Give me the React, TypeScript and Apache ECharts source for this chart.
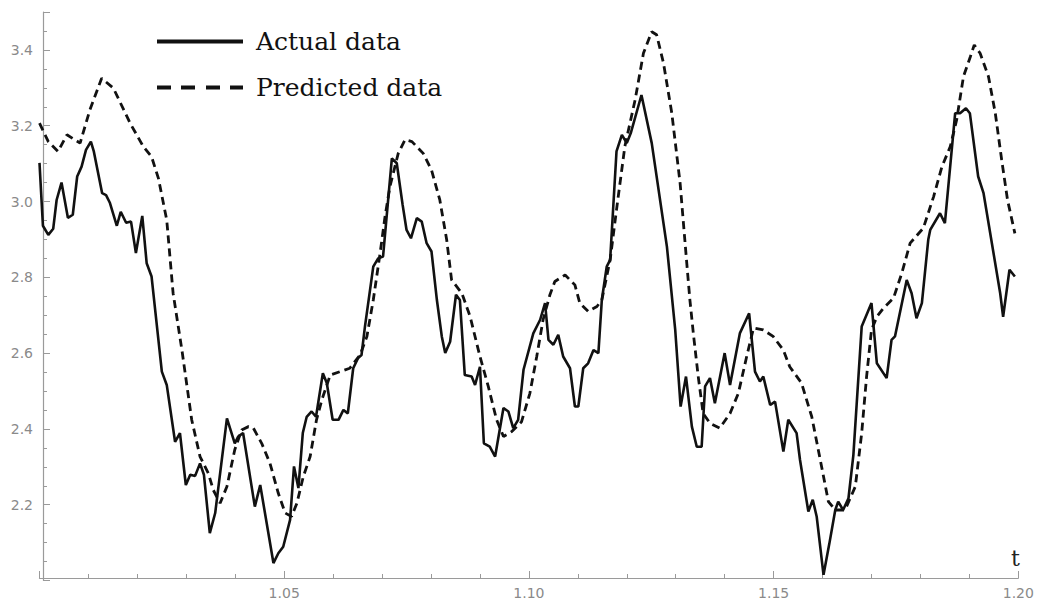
import React, { useEffect, useRef } from "react";
import * as echarts from "echarts";

// Actual data (t, value)
const actualT = [
  1.0, 1.0007, 1.0018, 1.0028, 1.0035, 1.0045, 1.0058, 1.0068, 1.0077, 1.0086,
  1.0095, 1.0105, 1.0111, 1.0128, 1.0136, 1.0144, 1.0158, 1.0166, 1.0177, 1.0187,
  1.0197, 1.021, 1.0219, 1.0229, 1.025, 1.026, 1.0277, 1.0287, 1.0299, 1.0308,
  1.0318, 1.0328, 1.0336, 1.0348, 1.0359, 1.0383, 1.0399, 1.0406, 1.0416, 1.044,
  1.0451, 1.0478, 1.0488, 1.0498, 1.0512, 1.052, 1.0529, 1.0538, 1.0546, 1.0556,
  1.0565, 1.0579, 1.0587, 1.0599, 1.0611, 1.0621, 1.063, 1.0641, 1.0651, 1.0658,
  1.0665, 1.0682, 1.0692, 1.0702, 1.072, 1.073, 1.0742, 1.075, 1.0759, 1.0771,
  1.0781, 1.0791, 1.0801, 1.0812, 1.0822, 1.0829, 1.0839, 1.0851, 1.0859, 1.0869,
  1.0883, 1.089, 1.09, 1.0908, 1.092, 1.0931, 1.0948, 1.0958, 1.0968, 1.0978,
  1.0989, 1.1009, 1.1023, 1.1033, 1.104, 1.105, 1.106, 1.107, 1.1084, 1.1094,
  1.1101, 1.1111, 1.1121, 1.1132, 1.1142, 1.1149, 1.1159, 1.1166, 1.1179, 1.119,
  1.12, 1.1208, 1.123, 1.1251, 1.1282, 1.1299, 1.131, 1.1321, 1.1333, 1.1343,
  1.1353, 1.136, 1.137, 1.138, 1.14, 1.1411, 1.1431, 1.145, 1.1462, 1.1472,
  1.1479, 1.1493, 1.1503, 1.152, 1.153, 1.1547, 1.1554, 1.1571, 1.158, 1.1588,
  1.1602, 1.1614, 1.1626, 1.1632, 1.1642, 1.1653, 1.1663, 1.168, 1.17, 1.1711,
  1.1731, 1.1741, 1.1748, 1.1772, 1.1782, 1.1792, 1.1803, 1.1816, 1.182, 1.184,
  1.185, 1.1871, 1.1881, 1.1893, 1.1901, 1.1918, 1.1929, 1.1963, 1.1969, 1.1982,
  1.1993,
];
const actualV = [
  3.102, 2.936, 2.912, 2.928, 3.004, 3.05, 2.957, 2.965, 3.066, 3.092,
  3.136, 3.158, 3.132, 3.022, 3.017, 2.996, 2.936, 2.973, 2.944, 2.947,
  2.864, 2.962, 2.837, 2.802, 2.551, 2.516, 2.366, 2.389, 2.252, 2.279,
  2.276, 2.309, 2.279, 2.125, 2.178, 2.428, 2.362, 2.38, 2.389, 2.195,
  2.252, 2.046, 2.072, 2.089, 2.16, 2.301, 2.244, 2.389, 2.432, 2.446,
  2.432, 2.547, 2.521, 2.424, 2.424, 2.45, 2.441, 2.56, 2.587, 2.595,
  2.67, 2.828, 2.85, 2.855, 3.114, 3.101, 2.991, 2.925, 2.903, 2.956,
  2.947, 2.89, 2.868, 2.74, 2.644, 2.6, 2.63, 2.754, 2.74, 2.542,
  2.538, 2.516, 2.564, 2.362, 2.353, 2.327, 2.455, 2.446, 2.402, 2.424,
  2.556, 2.652, 2.688, 2.732, 2.635, 2.622, 2.648, 2.591, 2.56, 2.459,
  2.459, 2.56, 2.573, 2.608, 2.6, 2.74, 2.828, 2.846, 3.132, 3.176,
  3.154, 3.18, 3.281, 3.154, 2.881, 2.661, 2.459, 2.538, 2.406, 2.353,
  2.353, 2.512, 2.534, 2.468, 2.6, 2.516, 2.652, 2.705, 2.551, 2.525,
  2.538, 2.463, 2.472, 2.34, 2.424, 2.389, 2.318, 2.182, 2.213, 2.169,
  2.015, 2.098, 2.186, 2.208, 2.186, 2.217, 2.331, 2.67, 2.732, 2.573,
  2.534, 2.635, 2.644, 2.793, 2.758, 2.692, 2.732, 2.899, 2.925, 2.969,
  2.943, 3.233, 3.233, 3.246, 3.233, 3.066, 3.022, 2.758, 2.696, 2.82,
  2.802,
];

// Predicted data (t, value)
const predictedT = [
  1.0, 1.0018, 1.0038, 1.0056, 1.0083, 1.0103, 1.0127, 1.0151, 1.0185, 1.0212,
  1.0229, 1.0243, 1.026, 1.0273, 1.0291, 1.0311, 1.0328, 1.0345, 1.0355, 1.0369,
  1.0383, 1.0399, 1.0413, 1.0427, 1.0437, 1.0454, 1.0471, 1.0488, 1.0502, 1.0515,
  1.0526, 1.0539, 1.0553, 1.0566, 1.0577, 1.0594, 1.0614, 1.0634, 1.0655, 1.0669,
  1.0682, 1.0696, 1.0706, 1.0716, 1.0733, 1.0747, 1.0761, 1.0784, 1.0801, 1.0818,
  1.0832, 1.0842, 1.0863, 1.088, 1.09, 1.0917, 1.0934, 1.0948, 1.0965, 1.0985,
  1.1002, 1.1016, 1.1029, 1.1043, 1.1053, 1.1074, 1.1094, 1.1104, 1.1121, 1.1139,
  1.1149, 1.1166, 1.1179, 1.1196, 1.1217, 1.1234, 1.1251, 1.1261, 1.1275, 1.1292,
  1.1309, 1.1322, 1.1329, 1.1336, 1.1346, 1.1356, 1.137, 1.139, 1.1411, 1.1428,
  1.1445, 1.1459, 1.1479, 1.1499, 1.152, 1.1533, 1.1557, 1.1578, 1.1598, 1.1612,
  1.1626, 1.1646, 1.1667, 1.168, 1.169, 1.17, 1.1711, 1.1724, 1.1745, 1.1762,
  1.1779, 1.1806, 1.1827, 1.1844, 1.1861, 1.1874, 1.1888, 1.1902, 1.191, 1.1922,
  1.1939, 1.1953, 1.1966, 1.1978, 1.1993,
];
const predictedV = [
  3.207, 3.158, 3.132, 3.176, 3.154, 3.242, 3.325, 3.299, 3.207, 3.145,
  3.118, 3.061, 2.951, 2.758, 2.608, 2.424, 2.327, 2.283, 2.239, 2.204,
  2.248, 2.345, 2.397, 2.406, 2.402, 2.362, 2.309, 2.23, 2.178, 2.169,
  2.204, 2.274, 2.327, 2.424, 2.477, 2.542, 2.551, 2.56, 2.595, 2.644,
  2.74, 2.864, 2.96, 3.039, 3.127, 3.163, 3.158, 3.127, 3.083, 3.004,
  2.899, 2.793, 2.758, 2.696, 2.591, 2.512, 2.424, 2.38, 2.393, 2.419,
  2.494, 2.591, 2.688, 2.754, 2.789, 2.806, 2.78, 2.732, 2.71, 2.723,
  2.74, 2.846, 2.978, 3.145, 3.268, 3.391, 3.448, 3.44, 3.365, 3.233,
  3.048, 2.846, 2.74, 2.652, 2.538, 2.441, 2.415, 2.402, 2.441, 2.494,
  2.591, 2.666, 2.661, 2.644, 2.608, 2.564, 2.521, 2.432, 2.301, 2.208,
  2.186, 2.186, 2.248, 2.389, 2.538, 2.661, 2.696, 2.718, 2.745, 2.811,
  2.89, 2.93, 3.013, 3.092, 3.145, 3.215, 3.33, 3.382, 3.413, 3.391,
  3.33, 3.233, 3.11, 3.004, 2.916,
];

const seriesNames = ["Actual data", "Predicted data"];
const xRange = [1.0, 1.2];
const yRange = [2.0, 3.5];
const axisColor = "#9a9a9a";
const labelColor = "#8a8a8a";

// legend icon shapes (solid bar, dashed bar)
const solidIcon = "path://M0 0H86V4H0Z";
const dashedIcon = "path://M0 0H14V4H0Z M24 0H38V4H24Z M49 0H63V4H49Z M73 0H86V4H73Z";

export default function App() {
  const ref = useRef<HTMLDivElement>(null);

  useEffect(() => {
    if (!ref.current) return;
    const chart = echarts.init(ref.current, null, { renderer: "svg" });
    chart.setOption({
      animation: false,
      backgroundColor: "#ffffff",
      grid: {
        left: 39.5,
        right: 18.7,
        top: 12,
        bottom: 20.5,
        containLabel: false,
        outerBoundsMode: "none",
      },
      legend: {
        orient: "vertical",
        left: 152,
        top: 24,
        itemWidth: 86,
        itemHeight: 4,
        itemGap: 21,
        symbolKeepAspect: false,
        textStyle: {
          fontFamily: "DejaVu Serif",
          fontSize: 25,
          color: "#111",
          padding: [0, 0, 0, 8],
        },
        data: [
          { name: seriesNames[0], icon: solidIcon },
          { name: seriesNames[1], icon: dashedIcon },
        ],
      },
      xAxis: {
        type: "value",
        min: xRange[0],
        max: xRange[1],
        interval: 0.05,
        offset: -2.5,
        name: "t",
        nameLocation: "end",
        nameGap: -3,
        nameTextStyle: {
          fontFamily: "DejaVu Serif",
          fontSize: 22,
          color: "#222",
          align: "center",
          verticalAlign: "bottom",
          padding: [0, 0, 9, 0],
        },
        axisLine: { lineStyle: { color: axisColor, width: 1.2 } },
        axisTick: { inside: true, length: 7, lineStyle: { color: axisColor } },
        minorTick: { show: true, splitNumber: 5, length: 4, lineStyle: { color: axisColor } },
        axisLabel: {
          showMinLabel: false,
          margin: 8,
          color: labelColor,
          fontFamily: "DejaVu Sans",
          fontSize: 14,
          formatter: (v: number) => v.toFixed(2),
        },
        splitLine: { show: false },
        minorSplitLine: { show: false },
      },
      yAxis: {
        type: "value",
        min: yRange[0],
        max: yRange[1],
        interval: 0.2,
        offset: -3.5,
        axisLine: { lineStyle: { color: axisColor, width: 1.2 } },
        axisTick: { inside: true, length: 7, lineStyle: { color: axisColor } },
        minorTick: { show: true, splitNumber: 4, length: 4, lineStyle: { color: axisColor } },
        axisLabel: {
          showMinLabel: false,
          showMaxLabel: false,
          margin: 10,
          color: labelColor,
          fontFamily: "DejaVu Sans",
          fontSize: 14,
          formatter: (v: number) => v.toFixed(1),
        },
        splitLine: { show: false },
        minorSplitLine: { show: false },
      },
      series: [
        {
          name: seriesNames[0],
          type: "line",
          data: actualT.map((t, i) => [t, actualV[i]]),
          symbol: "none",
          clip: false,
          lineStyle: { color: "#111", width: 2.6 },
          itemStyle: { color: "#111" },
          z: 3,
        },
        {
          name: seriesNames[1],
          type: "line",
          data: predictedT.map((t, i) => [t, predictedV[i]]),
          symbol: "none",
          clip: false,
          lineStyle: { color: "#111", width: 2.8, type: [8, 5] },
          itemStyle: { color: "#111" },
          z: 2,
        },
      ],
    });
    return () => chart.dispose();
  }, []);

  return (
    <div
      ref={ref}
      style={{ position: "fixed", left: 0, top: 0, width: 1037, height: 601, background: "#fff" }}
    />
  );
}
